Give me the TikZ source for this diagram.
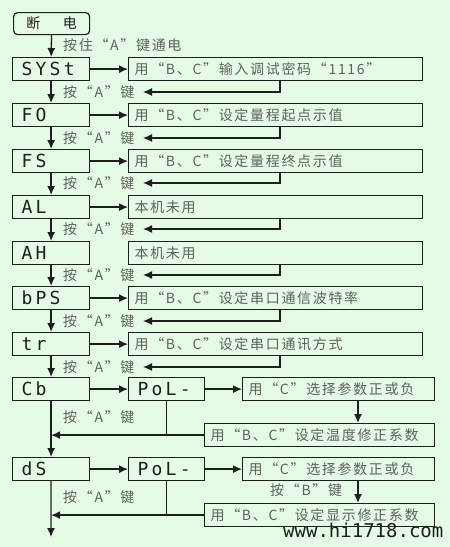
\documentclass[tikz,border=0pt]{standalone}
\usepackage{fontspec}
\newfontfamily\cjk[LetterSpace=12]{Noto Sans CJK SC}
\newfontfamily\seg[LetterSpace=18]{DejaVu Sans Mono}
\newfontfamily\wmfont{DejaVu Sans Mono}
\usetikzlibrary{arrows.meta}
\definecolor{bg}{RGB}{230,251,230}
\definecolor{ln}{RGB}{30,30,30}
\definecolor{tx}{RGB}{95,95,95}
\begin{document}
\begin{tikzpicture}[x=1pt,y=-1pt,
  segbox/.style={draw=ln, line width=1.2pt, anchor=north west, minimum height=23pt,
    inner xsep=9pt, inner ysep=0pt, text width=#1, text=ln,
    font=\seg\fontsize{18}{18}\selectfont},
  rbox/.style={draw=ln, line width=1.2pt, anchor=north west, minimum height=23pt,
    inner xsep=6pt, inner ysep=0pt, text width=#1, text=tx,
    font=\cjk\fontsize{14}{14}\selectfont},
  lbl/.style={anchor=west, inner sep=0pt, text=tx, font=\cjk\fontsize{14}{14}\selectfont},
  arr/.style={draw=ln, line width=1.3pt, -{Latex[length=9pt,width=8pt]}},
  ln/.style={draw=ln, line width=1.3pt}
]
\fill[bg] (0,0) rectangle (450,547);
\useasboundingbox (0,0) rectangle (450,547);

% start
\node[draw=ln, line width=1.2pt, rounded corners=4pt, anchor=north west,
  minimum width=76pt, minimum height=22pt, inner sep=0pt, text=ln,
  font=\cjk\fontsize{14}{14}\selectfont] (off) at (13,12) {断\hspace{1.6em}电};

% main column
\node[segbox=59pt] (syst) at (12,57)  {SYSt};
\node[segbox=59pt] (fo)   at (12,103) {FO};
\node[segbox=59pt] (fs)   at (12,149) {FS};
\node[segbox=59pt] (al)   at (12,195) {AL};
\node[segbox=59pt] (ah)   at (12,241) {AH};
\node[segbox=59pt] (bps)  at (12,286) {bPS};
\node[segbox=59pt] (tr)   at (12,332) {tr};
\node[segbox=59pt] (cb)   at (12,377) {Cb};
\node[segbox=59pt] (ds)   at (12,457) {dS};

% right boxes
\node[rbox=282pt] (r1) at (128,57)  {用“B、C”输入调试密码“1116”};
\node[rbox=282pt] (r2) at (128,103) {用“B、C”设定量程起点示值};
\node[rbox=282pt] (r3) at (128,149) {用“B、C”设定量程终点示值};
\node[rbox=282pt] (r4) at (128,195) {本机未用};
\node[rbox=282pt] (r5) at (128,241) {本机未用};
\node[rbox=282pt] (r6) at (128,286) {用“B、C”设定串口通信波特率};
\node[rbox=282pt] (r7) at (128,332) {用“B、C”设定串口通讯方式};

\node[segbox=58pt] (pol1) at (128,377) {PoL-};
\node[segbox=58pt] (pol2) at (128,457) {PoL-};
\node[rbox=180pt] (c1) at (242,377) {用“C”选择参数正或负};
\node[rbox=180pt] (c2) at (242,457) {用“C”选择参数正或负};
\node[rbox=218pt] (bc1) at (204,423) {用“B、C”设定温度修正系数};
\node[rbox=218pt] (bc2) at (204,503) {用“B、C”设定显示修正系数};

% labels
\node[lbl] (l0) at (63,45)  {按住“A”键通电};
\node[lbl] (l1) at (63,92)  {按“A”键};
\node[lbl] (l2) at (63,138) {按“A”键};
\node[lbl] (l3) at (63,183) {按“A”键};
\node[lbl] (l4) at (63,229) {按“A”键};
\node[lbl] (l5) at (63,275) {按“A”键};
\node[lbl] (l6) at (63,321) {按“A”键};
\node[lbl] (l7) at (63,367) {按“A”键};
\node[lbl] (l8) at (63,417) {按“A”键};
\node[lbl] (l9) at (63,497) {按“A”键};
\node[lbl] (lb) at (270,490) {按“B”键};

% coordinates
\coordinate (t1) at (143,92);
\coordinate (t2) at (143,138);
\coordinate (t3) at (143,183);
\coordinate (t4) at (143,229);
\coordinate (t5) at (143,275);
\coordinate (t6) at (143,321);
\coordinate (t7) at (143,367);
\coordinate (dx) at (358,0);
\coordinate (end) at (51,537);

% main vertical arrows
\draw[arr] (off) -- (syst);
\draw[arr] (syst) -- (fo);
\draw[arr] (fo) -- (fs);
\draw[arr] (fs) -- (al);
\draw[arr] (al) -- (ah);
\draw[arr] (ah) -- (bps);
\draw[arr] (bps) -- (tr);
\draw[arr] (tr) -- (cb);
\draw[arr] (cb) -- (ds);
\draw[arr] (ds) -- (end);

% right arrows
\draw[arr] (syst) -- (r1);
\draw[arr] (fo) -- (r2);
\draw[arr] (fs) -- (r3);
\draw[arr] (al) -- (r4);
\draw[arr] (bps) -- (r6);
\draw[arr] (tr) -- (r7);
\draw[arr] (cb) -- (pol1);
\draw[arr] (ds) -- (pol2);
\draw[arr] (pol1) -- (c1);
\draw[arr] (pol2) -- (c2);

% return arrows
\draw[arr] ([xshift=152pt]r1.south west) |- (t1);
\draw[arr] ([xshift=152pt]r2.south west) |- (t2);
\draw[arr] ([xshift=152pt]r3.south west) |- (t3);
\draw[arr] ([xshift=152pt]r4.south west) |- (t4);
\draw[arr] ([xshift=152pt]r5.south west) |- (t5);
\draw[arr] ([xshift=152pt]r6.south west) |- (t6);
\draw[arr] ([xshift=152pt]r7.south west) |- (t7);

% Cb / dS branches
\draw[arr] (c1.south -| dx) -- (bc1.north -| dx);
\draw[arr] (c2.south -| dx) -- (bc2.north -| dx);
\draw[ln] (pol1.south) -- (pol1.south |- bc1.west);
\draw[ln] (pol2.south) -- (pol2.south |- bc2.west);
\draw[arr] (bc1.west) -- (bc1.west -| cb.south);
\draw[arr] (bc2.west) -- (bc2.west -| ds.south);

% watermark
\node[anchor=west, inner sep=0pt, text=ln, font=\wmfont\fontsize{19}{19}\selectfont] (wm) at (283,530) {www.hi1718.com};
\end{tikzpicture}
\end{document}
